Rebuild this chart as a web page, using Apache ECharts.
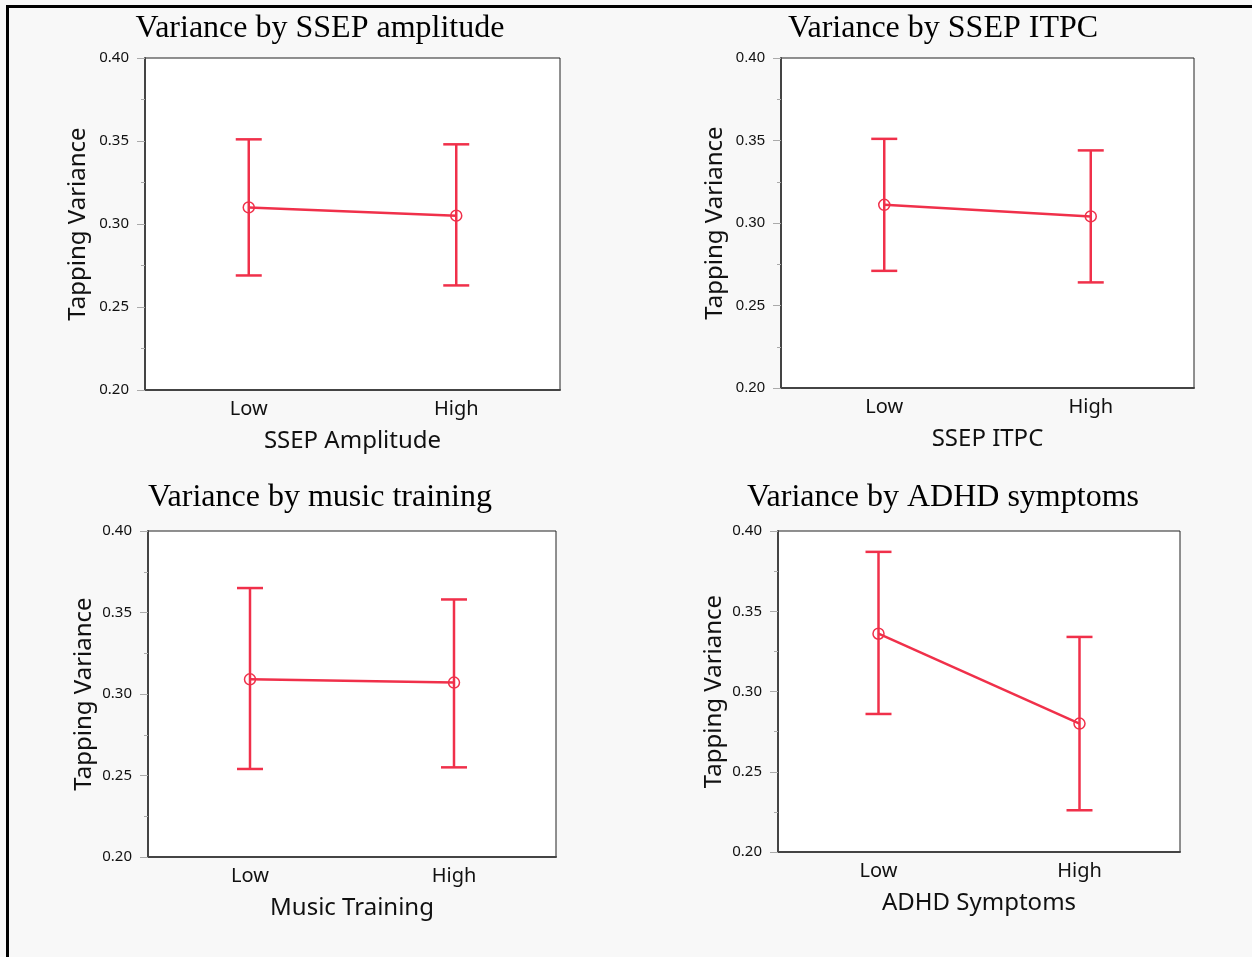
<!DOCTYPE html>
<html>
<head>
<meta charset="utf-8">
<script src="https://cdn.jsdelivr.net/npm/echarts@6/dist/echarts.min.js"></script>
<style>
  html, body { margin: 0; padding: 0; background: #f8f8f8; }
  #frame { position: absolute; left: 6px; top: 5px; width: 1250px; height: 960px;
    border-left: 3px solid #000; border-top: 3px solid #000; }
  #main { position: absolute; left: 0; top: 0; width: 1252px; height: 957px; }
</style>
</head>
<body>
<div id="frame"></div>
<div id="main"></div>
<script>
// 数据
const categories = ['Low', 'High']
const titles = ['Variance by SSEP amplitude', 'Variance by SSEP ITPC', 'Variance by music training', 'Variance by ADHD symptoms']
const xNames = ['SSEP Amplitude', 'SSEP ITPC', 'Music Training', 'ADHD Symptoms']
const yName = 'Tapping Variance'
const yTicks = [0.20, 0.25, 0.30, 0.35, 0.40]

const amplitudeMean = [0.310, 0.305]
const amplitudeLower = [0.269, 0.263]
const amplitudeUpper = [0.351, 0.348]

const itpcMean = [0.311, 0.304]
const itpcLower = [0.271, 0.264]
const itpcUpper = [0.351, 0.344]

const musicMean = [0.309, 0.307]
const musicLower = [0.254, 0.255]
const musicUpper = [0.365, 0.358]

const adhdMean = [0.336, 0.280]
const adhdLower = [0.286, 0.226]
const adhdUpper = [0.387, 0.334]

const means = [amplitudeMean, itpcMean, musicMean, adhdMean]
const lowers = [amplitudeLower, itpcLower, musicLower, adhdLower]
const uppers = [amplitudeUpper, itpcUpper, musicUpper, adhdUpper]

const red = '#f0304a'
// 每个子图的位置
const grids = [
  { left: 145, top: 58, width: 415, height: 332 },
  { left: 781, top: 58, width: 413, height: 330 },
  { left: 148, top: 531, width: 408, height: 326 },
  { left: 778, top: 531, width: 402, height: 321 }
]
const titlePos = [[320, 29], [943, 29], [320, 498], [943, 498]]
const yNameGap = [55, 54, 52, 52]
const tickFont = ['Noto Sans', 'Liberation Sans', 'Noto Sans', 'Noto Sans']

let option = {
  animation: false,
  backgroundColor: 'transparent',
  grid: grids.map(g => Object.assign({
    show: true,
    backgroundColor: '#fff',
    borderColor: '#222',
    borderWidth: 1
  }, g)),
  xAxis: grids.map((g, i) => ({
    type: 'category',
    gridIndex: i,
    data: categories,
    name: xNames[i],
    nameLocation: 'middle',
    nameGap: 39,
    nameTextStyle: { fontFamily: 'Noto Sans', fontSize: 24, color: '#111' },
    axisLine: { lineStyle: { color: '#444', width: 2 } },
    axisTick: { show: false },
    axisLabel: { margin: 9, fontFamily: 'Noto Sans', fontSize: 20, color: '#111' }
  })),
  yAxis: grids.map((g, i) => ({
    type: 'value',
    gridIndex: i,
    min: yTicks[0],
    max: yTicks[yTicks.length - 1],
    interval: 0.05,
    name: yName,
    nameLocation: 'middle',
    nameGap: yNameGap[i],
    nameTextStyle: { fontFamily: 'Noto Sans', fontSize: 24, color: '#111' },
    axisLine: { show: true, lineStyle: { color: '#444', width: 2 } },
    axisTick: { show: true, length: 8, lineStyle: { color: '#aaa', width: 1 } },
    minorTick: { show: true, splitNumber: 2, length: 4, lineStyle: { color: '#aaa', width: 1 } },
    splitLine: { show: false },
    axisLabel: {
      margin: 16,
      fontFamily: tickFont[i],
      fontSize: 15,
      color: '#111',
      formatter: v => v.toFixed(2)
    }
  })),
  graphic: titles.map((t, i) => ({
    type: 'text',
    x: titlePos[i][0],
    y: titlePos[i][1],
    style: {
      text: t,
      font: '32px "Liberation Serif"',
      fill: '#000',
      textAlign: 'center',
      textVerticalAlign: 'middle'
    }
  })),
  series: []
}

for (let i = 0; i < 4; i++) {
  // 误差线
  option.series.push({
    type: 'custom',
    xAxisIndex: i,
    yAxisIndex: i,
    data: categories.map((c, k) => [k, lowers[i][k], uppers[i][k]]),
    renderItem: function (params, api) {
      const lo = api.coord([api.value(0), api.value(1)])
      const hi = api.coord([api.value(0), api.value(2)])
      const hw = 13
      const style = { stroke: red, lineWidth: 2.5 }
      return {
        type: 'group',
        children: [
          { type: 'line', shape: { x1: lo[0], y1: lo[1], x2: hi[0], y2: hi[1] }, style: style },
          { type: 'line', shape: { x1: lo[0] - hw, y1: lo[1], x2: lo[0] + hw, y2: lo[1] }, style: style },
          { type: 'line', shape: { x1: hi[0] - hw, y1: hi[1], x2: hi[0] + hw, y2: hi[1] }, style: style }
        ]
      }
    },
    z: 2
  })
  // 均值
  option.series.push({
    type: 'line',
    xAxisIndex: i,
    yAxisIndex: i,
    data: means[i],
    symbol: 'circle',
    symbolSize: 11,
    lineStyle: { color: red, width: 2.5 },
    itemStyle: { color: 'rgba(0,0,0,0)', borderColor: red, borderWidth: 1.5 },
    z: 3
  })
}

echarts.init(document.getElementById('main')).setOption(option)
</script>
</body>
</html>
